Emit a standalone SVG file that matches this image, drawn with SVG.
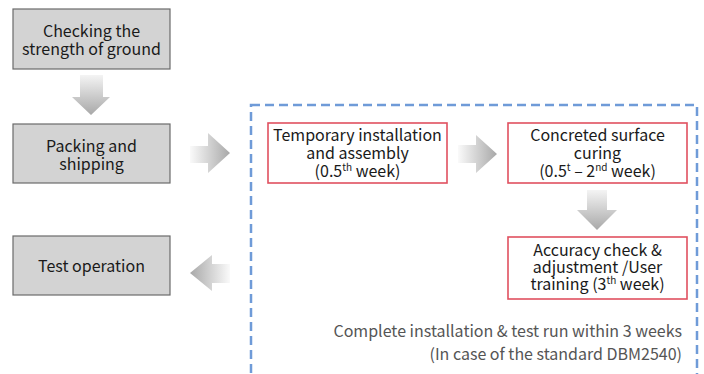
<svg xmlns="http://www.w3.org/2000/svg" width="704" height="374" viewBox="0 0 704 374">
<defs>
<style>
text{font-family:"Noto Sans CJK KR","Noto Sans",sans-serif;font-size:16px;fill:#1a1a1a;text-anchor:middle}
.g{fill:#d3d3d3;stroke:#6b6b6b;stroke-width:1.2}
.r{fill:#fff;stroke:#e0505f;stroke-width:1.6}
.note{fill:#555;text-anchor:end}
.sup{font-size:10px}
</style>
<linearGradient id="gd" x1="0" y1="0" x2="0" y2="1"><stop offset="0" stop-color="#f4f4f4"/><stop offset="1" stop-color="#a8a8a8"/></linearGradient>
<linearGradient id="gr" x1="0" y1="0" x2="1" y2="0"><stop offset="0" stop-color="#fafafa"/><stop offset="1" stop-color="#a8a8a8"/></linearGradient>
<linearGradient id="gl" x1="1" y1="0" x2="0" y2="0"><stop offset="0" stop-color="#fafafa"/><stop offset="1" stop-color="#a8a8a8"/></linearGradient>
</defs>
<rect width="704" height="374" fill="#fff"/>
<g id="connectors">
<path d="M80 75 H103 V97 H110 L91 115 L72 97 H80 Z" fill="url(#gd)"/>
<path d="M190 146 H208 V133 L230 153 L208 173 V163 H190 Z" fill="url(#gr)"/>
<path d="M230 264 H212 V255 L190 273 L212 291 V283 H230 Z" fill="url(#gl)"/>
<path d="M458 145 H476 V135 L497 154 L476 173 V163 H458 Z" fill="url(#gr)"/>
<path d="M587 190 H607 V210 H617 L597 230 L577 210 H587 Z" fill="url(#gd)"/>
</g>
<g id="group-box">
<rect x="251" y="105" width="446" height="290" fill="none" stroke="#6f9bd8" stroke-width="2.5" stroke-dasharray="9 5"/>
</g>
<g id="n1"><rect class="g" x="13" y="9" width="157" height="60"/><text x="91.5" y="37">Checking the</text><text x="91.5" y="55">strength of ground</text></g>
<g id="n2"><rect class="g" x="13" y="124" width="157" height="59"/><text x="91.5" y="152">Packing and</text><text x="91.5" y="170">shipping</text></g>
<g id="n3"><rect class="g" x="13" y="236" width="157" height="59"/><text x="91.5" y="272">Test operation</text></g>
<g id="r1"><rect class="r" x="268" y="123" width="179" height="60"/><text x="357.5" y="141">Temporary installation</text><text x="357.5" y="159">and assembly</text><text x="357.5" y="177">(0.5<tspan class="sup" dy="-6">th</tspan><tspan dy="6"> week)</tspan></text></g>
<g id="r2"><rect class="r" x="508" y="123" width="179" height="60"/><text x="597.5" y="141">Concreted surface</text><text x="597.5" y="159">curing</text><text x="597.5" y="177">(0.5<tspan class="sup" dy="-6">t</tspan><tspan dy="6"> – 2</tspan><tspan class="sup" dy="-6">nd</tspan><tspan dy="6"> week)</tspan></text></g>
<g id="r3"><rect class="r" x="508" y="237" width="179" height="62"/><text x="597.5" y="256">Accuracy check &amp;</text><text x="597.5" y="273">adjustment /User</text><text x="597.5" y="290">training (3<tspan class="sup" dy="-6">th</tspan><tspan dy="6"> week)</tspan></text></g>
<g id="note"><text class="note" x="682" y="337">Complete installation &amp; test run within 3 weeks</text><text class="note" x="682" y="360">(In case of the standard DBM2540)</text></g>
</svg>
